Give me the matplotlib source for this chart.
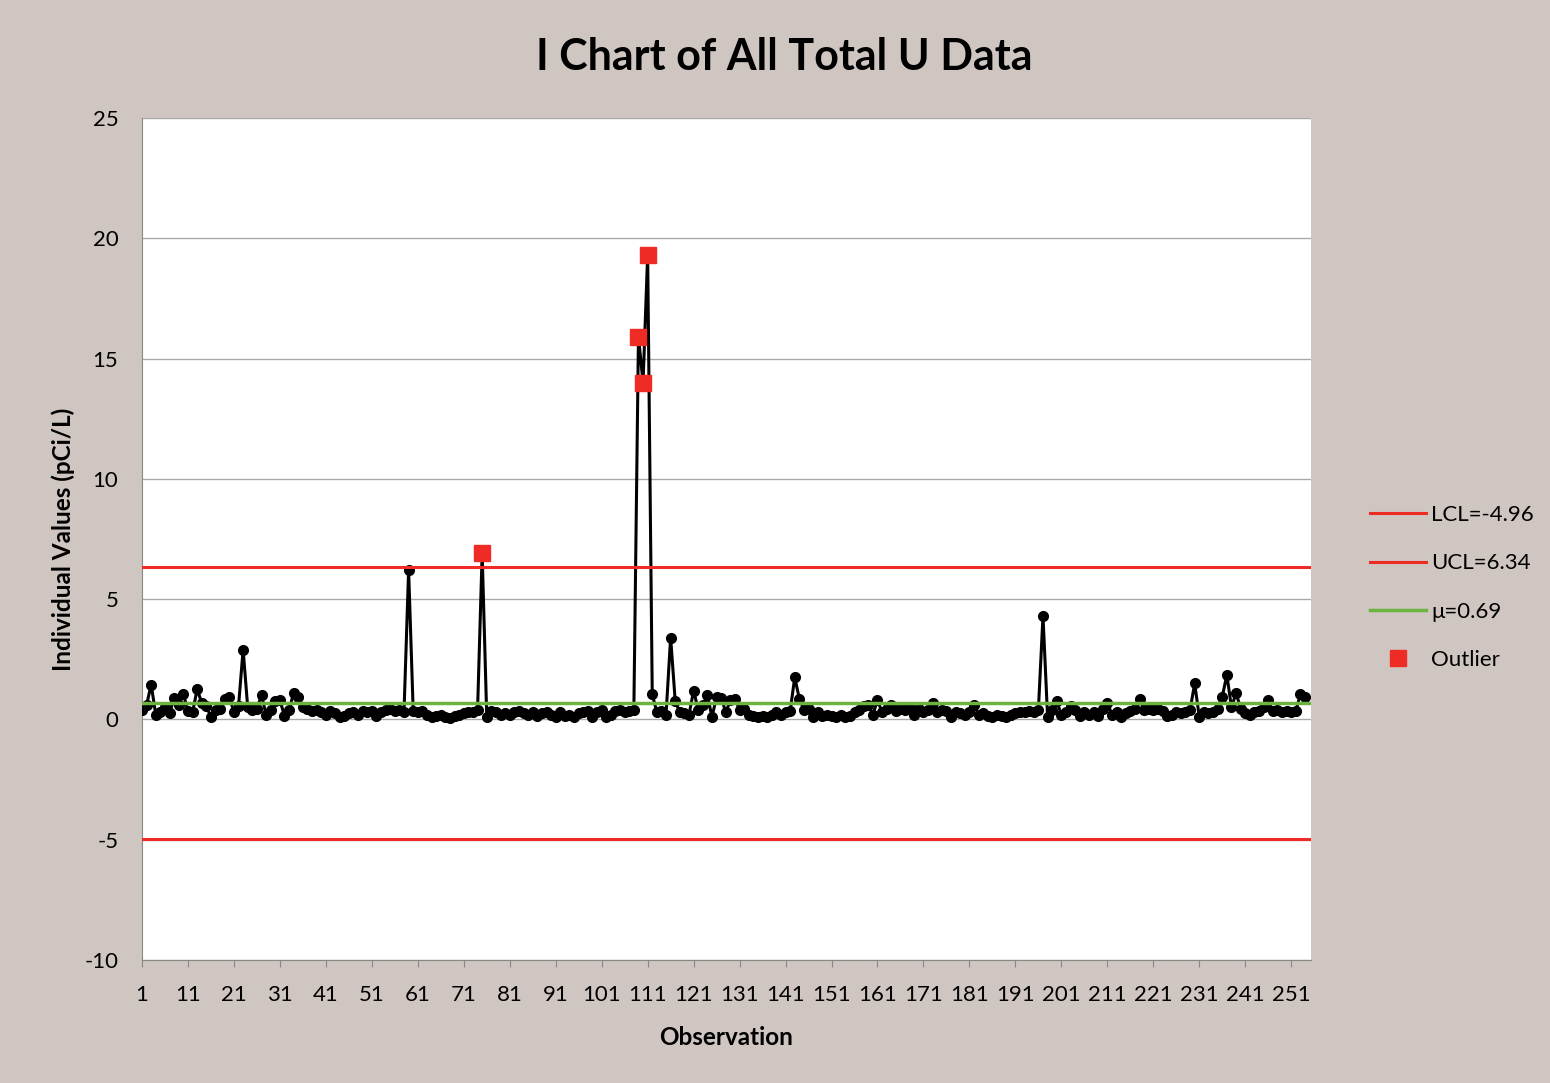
import numpy as np
import matplotlib.pyplot as plt
from matplotlib.lines import Line2D

# total U results (pCi/L), one per observation
total_u = [
    0.4, 0.6, 1.45, 0.2, 0.3, 0.5, 0.25, 0.9, 0.6, 1.05,
    0.35, 0.3, 1.25, 0.7, 0.55, 0.1, 0.4, 0.45, 0.85, 0.95,
    0.3, 0.55, 2.9, 0.5, 0.4, 0.45, 1.0, 0.2, 0.4, 0.75,
    0.8, 0.15, 0.4, 1.1, 0.95, 0.5, 0.45, 0.35, 0.4, 0.3,
    0.2, 0.35, 0.25, 0.1, 0.15, 0.25, 0.3, 0.2, 0.35, 0.3,
    0.35, 0.15, 0.3, 0.4, 0.45, 0.35, 0.4, 0.3, 6.2, 0.35,
    0.3, 0.35, 0.2, 0.1, 0.15, 0.2, 0.1, 0.05, 0.15, 0.2,
    0.25, 0.3, 0.3, 0.4, 6.9, 0.1, 0.35, 0.3, 0.2, 0.25,
    0.2, 0.3, 0.35, 0.25, 0.2, 0.3, 0.15, 0.25, 0.3, 0.2,
    0.1, 0.3, 0.15, 0.2, 0.1, 0.25, 0.3, 0.35, 0.1, 0.3,
    0.4, 0.1, 0.2, 0.35, 0.4, 0.3, 0.35, 0.4, 15.9, 14.0,
    19.3, 1.05, 0.3, 0.35, 0.2, 3.4, 0.75, 0.3, 0.25, 0.2,
    1.2, 0.4, 0.6, 1.0, 0.1, 0.95, 0.9, 0.3, 0.8, 0.85,
    0.4, 0.45, 0.2, 0.15, 0.1, 0.15, 0.1, 0.2, 0.3, 0.2,
    0.3, 0.35, 1.75, 0.85, 0.4, 0.45, 0.1, 0.3, 0.15, 0.2,
    0.15, 0.1, 0.2, 0.1, 0.15, 0.3, 0.4, 0.55, 0.6, 0.2,
    0.8, 0.3, 0.45, 0.6, 0.35, 0.45, 0.4, 0.5, 0.2, 0.45,
    0.3, 0.4, 0.7, 0.3, 0.4, 0.35, 0.1, 0.3, 0.25, 0.2,
    0.3, 0.6, 0.2, 0.25, 0.15, 0.1, 0.2, 0.15, 0.1, 0.2,
    0.25, 0.3, 0.3, 0.35, 0.3, 0.4, 4.3, 0.1, 0.4, 0.75,
    0.2, 0.3, 0.55, 0.4, 0.15, 0.3, 0.2, 0.3, 0.15, 0.45,
    0.7, 0.2, 0.3, 0.1, 0.25, 0.35, 0.45, 0.85, 0.4, 0.45,
    0.4, 0.45, 0.35, 0.15, 0.2, 0.3, 0.25, 0.3, 0.4, 1.5,
    0.1, 0.3, 0.25, 0.3, 0.45, 0.95, 1.85, 0.5, 1.1, 0.45,
    0.25, 0.2, 0.3, 0.35, 0.5, 0.8, 0.35, 0.4, 0.3, 0.35,
    0.3, 0.35, 1.05, 0.95,
]
outlier_obs = [75, 109, 110, 111]
lcl = -4.96
ucl = 6.34
mu = 0.69
x_ticks = list(range(1, 252, 10))
y_ticks = [-10, -5, 0, 5, 10, 15, 20, 25]

obs = np.arange(1, len(total_u) + 1)
vals = np.array(total_u)
out_idx = [o - 1 for o in outlier_obs]

red = '#ee2b24'
green = '#6db33f'
bg = '#cfc6c2'

plt.rcParams['font.family'] = ['Lato', 'DejaVu Sans']
plt.rcParams['axes.unicode_minus'] = False

fig = plt.figure(figsize=(15.5, 10.83), dpi=100, facecolor=bg)
ax = fig.add_axes([0.0916, 0.1136, 0.7542, 0.7774])
ax.set_facecolor('white')

ax.plot(obs, vals, color='black', lw=2.2, marker='o', ms=7, zorder=3)
ax.axhline(lcl, color=red, lw=2.2, zorder=4)
ax.axhline(ucl, color=red, lw=2.2, zorder=4)
ax.axhline(mu, color=green, lw=2.5, zorder=4)
ax.plot(obs[out_idx], vals[out_idx], ls='none', marker='s', ms=11,
        color=red, zorder=5)

ax.set_xlim(1, 255.3)
ax.set_ylim(-10, 25)
ax.set_xticks(x_ticks)
ax.set_yticks(y_ticks)
ax.tick_params(axis='both', labelsize=16, color='#888888', length=5)
ax.tick_params(axis='x', pad=13)
ax.tick_params(axis='y', length=0, pad=17)
ax.grid(axis='y', color='#aaaaaa', lw=1)
ax.set_axisbelow(True)
for s in ['top', 'right']:
    ax.spines[s].set_visible(False)
ax.spines['left'].set_color('#888888')
ax.spines['bottom'].set_color('#888888')

fig.suptitle('I Chart of All Total U Data', x=0.506, y=0.947, va='center',
             fontsize=31, fontweight='bold')
ax.set_xlabel('Observation', fontsize=17.5, fontweight='bold', labelpad=15)
ax.set_ylabel('Individual Values (pCi/L)', fontsize=17.5, fontweight='bold', labelpad=7)

handles = [
    Line2D([], [], color=red, lw=2.2),
    Line2D([], [], color=red, lw=2.2),
    Line2D([], [], color=green, lw=2.5),
    Line2D([], [], color=red, ls='none', marker='s', ms=11),
]
labels = ['LCL=%.2f' % lcl, 'UCL=%.2f' % ucl, 'μ=%.2f' % mu, 'Outlier']
fig.legend(handles, labels, loc='upper left', bbox_to_anchor=(0.871, 0.552),
           frameon=False, fontsize=16, handlelength=2.5, handletextpad=0.25,
           labelspacing=1.27)

fig.savefig('out.png', facecolor=bg)
